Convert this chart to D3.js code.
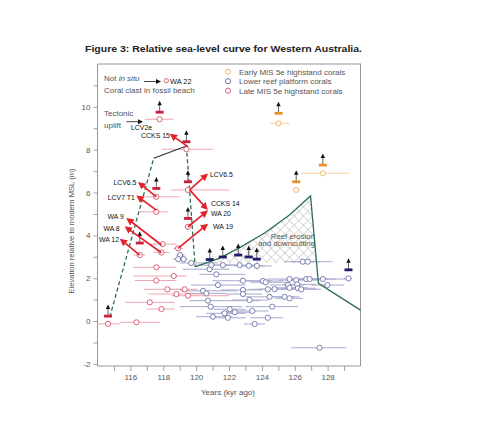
<!DOCTYPE html>
<html><head><meta charset="utf-8">
<script src="https://cdn.jsdelivr.net/npm/d3@7/dist/d3.min.js"></script>
<style>body{margin:0;background:#fff}</style>
</head><body>
<svg id="c" width="500" height="446"></svg>
<script>
// ---------- DATA ----------
const xTickValues = [115,116,117,118,119,120,121,122,123,124,125,126,127,128,129];
const xTickLabels = [116,118,120,122,124,126,128];
const yTickValues = [-2,-1,0,1,2,3,4,5,6,7,8,9,10,11];
const yTickLabels = [-2,0,2,4,6,8,10];

// [age kyr, elevation m, age min, age max]
const lateCorals = [
  [114.64,-0.13,114.0,115.35],[116.37,-0.06,115.35,117.78],
  [117.58,2.51,116.16,118.8],[118.64,2.10,116.14,119.41],
  [117.58,1.89,116.27,118.8],[118.25,1.48,116.8,119.6],
  [119.30,1.48,118.3,120.1],[118.80,1.26,117.1,120.5],
  [119.50,1.18,118.5,122.0],[117.18,0.87,115.7,118.7],
  [117.89,0.56,117.0,118.7],[116.57,3.08,116.2,116.9],
  [117.89,3.20,117.4,118.4],[117.97,3.59,117.2,118.8],
  [118.90,3.39,118.6,119.2],[119.50,4.40,119.3,119.7],
  [119.50,6.12,118.5,122.0],[117.58,5.80,116.6,119.0],
  [117.58,5.10,116.57,118.27],[119.41,8.02,117.89,121.0],
  [117.78,9.42,116.87,118.64]
];
const lowerCorals = [
  [119.03,3.08,118.8,119.3],[118.91,2.89,118.6,119.2],[119.24,2.89,119.0,119.5],
  [119.70,2.71,119.0,121.3],[120.82,2.42,119.18,122.04],[121.23,2.18,120.2,123.0],
  [121.33,1.68,119.7,123.0],[120.42,1.41,119.0,122.5],[120.62,1.29,119.4,121.8],
  [120.72,0.95,119.6,123.9],[120.88,0.67,119.0,122.8],[121.02,0.20,120.0,122.2],
  [121.73,0.36,120.6,123.0],[120.93,2.61,120.0,122.0],[121.63,2.61,120.7,122.6],
  [122.65,2.61,121.6,123.8],[123.21,2.58,122.3,124.2],[123.70,2.57,122.8,124.6],
  [126.49,2.77,125.4,127.6],[126.79,2.77,125.8,128.3],[122.85,1.88,121.0,124.6],
  [124.06,1.87,122.6,125.3],[124.23,1.81,123.3,125.6],[125.68,1.96,124.3,127.2],
  [126.09,1.91,125.0,127.5],[126.70,1.96,125.5,128.0],[126.90,1.96,125.9,128.5],
  [127.71,1.96,126.5,129.27],[127.99,1.68,127.0,129.0],[125.58,1.68,124.5,126.6],
  [126.15,1.71,125.3,127.3],[122.85,1.45,121.5,124.0],[124.36,1.48,123.2,125.5],
  [124.77,1.49,123.8,125.9],[125.68,1.55,124.6,126.8],[126.19,1.53,125.2,127.3],
  [126.39,1.48,125.5,127.6],[122.85,1.26,121.8,124.0],[124.47,1.13,123.0,126.0],
  [125.38,1.13,124.4,126.3],[125.68,1.06,124.8,126.5],[123.25,0.98,122.2,124.4],
  [122.04,0.55,121.0,123.0],[122.35,0.41,121.5,123.4],[123.42,0.47,122.4,124.4],
  [124.63,0.67,123.0,126.2],[121.93,0.15,121.0,123.0],[124.36,0.15,123.3,125.3],
  [123.56,-0.14,122.9,124.2],[127.51,-1.25,125.79,129.13],[129.27,1.99,129.0,129.5]
];
const earlyCorals = [
  [125.01,9.23,124.47,125.68],[126.09,6.12,125.9,126.3],[127.71,6.9,126.39,129.33]
];
const notInSitu = [[118.19,11.22]];

// minimum-elevation markers [age, elevation]
const lateMinima  = [[114.64,0.23],[116.57,3.64],[117.58,6.19],[117.78,9.75],[119.41,8.37],[119.5,6.5],[119.5,4.79]];
const earlyMinima = [[125.01,9.7],[126.09,6.5],[127.71,7.28]];
const lowerMinima = [[120.83,2.87],[121.62,2.99],[122.56,3.08],[123.2,2.99],[123.69,2.89],[129.27,2.39]];

// sea-level curve segments [age, elevation]
const dashedA = [[114.75,0.19],[117.42,7.6]];
const solidA  = [[117.42,7.6],[119.41,8.17]];
const dashedB = [[119.41,8.17],[119.94,2.53]];
const solidB  = [[119.94,2.53],[121.43,2.94],[122.65,3.43],[124.17,4.11],[125.68,4.95],[126.96,5.84],[127.44,1.76],[130,0.51]];
const erosionArea = [[120.6,2.72],[121.43,2.94],[122.65,3.43],[124.17,4.11],[125.68,4.95],[126.96,5.84],[127.33,2.72]];

// annotated arrows: [label, fromAge, fromElev, toAge, toElev]
const labelArrows = [
  ['CCKS 15',119.5,8.14,118.5,8.68],
  ['LCV6.5',117.58,5.80,116.57,6.43],
  ['LCV7 T1',117.58,5.18,116.47,5.80],
  ['WA 9',117.89,3.55,115.86,4.75],
  ['WA 8',117.89,3.19,115.76,4.36],
  ['WA 12',116.57,3.08,115.46,3.78],
  ['LCV6.5',119.61,6.12,120.62,6.82],
  ['CCKS 14',119.61,6.12,120.62,5.26],
  ['WA 20',119.5,4.40,120.62,5.10],
  ['WA 19',118.9,3.39,120.62,4.48]
];
// label anchor [age, elev]
const labelAt = [[118.4,8.64],[116.37,6.48],[116.27,5.78],[115.6,4.87],[115.35,4.33],[115.31,3.81],
                 [120.84,6.85],[120.9,5.46],[120.9,5.03],[121.03,4.40]];

const legendItems = ['Early MIS 5e highstand corals','Lower reef platform corals','Late MIS 5e highstand corals'];

// ---------- DRAW ----------
const FONT = "'Liberation Sans', Arial, sans-serif";
const C = {
  red:'#d2506a', redLine:'#eea7b0', blue:'#6e74a8', blueLine:'#a6a9cf',
  orange:'#efb060', orangeLine:'#f3cf9c', navy:'#1c1c6e', redBar:'#c8203a', orangeBar:'#e8902a',
  arrow:'#e3232b', green:'#2f6e50', frame:'#8a8a8a', text:'#555'
};
const svg = d3.select('#c');
const x = d3.scaleLinear().domain([114,130]).range([97.5,360.5]);
const y = d3.scaleLinear().domain([-2.1,12]).range([366,64]);

const defs = svg.append('defs');
const pat = defs.append('pattern').attr('id','hatch').attr('patternUnits','userSpaceOnUse')
  .attr('width',6.5).attr('height',6.5).attr('patternTransform','rotate(45)');
pat.append('path').attr('d','M3.25,0V6.5M0,3.25H6.5').attr('stroke','#b4b4b4').attr('stroke-width',0.5).attr('fill','none');
defs.append('marker').attr('id','ra').attr('viewBox','0 0 10 10').attr('refX',7).attr('refY',5)
  .attr('markerWidth',7.5).attr('markerHeight',7.5).attr('markerUnits','userSpaceOnUse').attr('orient','auto')
  .append('path').attr('d','M0,0L10,5L0,10z').attr('fill',C.arrow);
defs.append('marker').attr('id','ka').attr('viewBox','0 0 10 10').attr('refX',8).attr('refY',5)
  .attr('markerWidth',5).attr('markerHeight',5).attr('markerUnits','userSpaceOnUse').attr('orient','auto')
  .append('path').attr('d','M0,0L10,5L0,10z').attr('fill','#111');

// title
svg.append('text').attr('x',85).attr('y',51.5).attr('font-family',FONT).attr('font-weight','bold')
  .attr('font-size',9.8).attr('fill','#222').attr('textLength',277).attr('lengthAdjust','spacingAndGlyphs')
  .text('Figure 3: Relative sea-level curve for Western Australia.');

// frame
svg.append('line').attr('x1',x.range()[0]).attr('x2',x.range()[1]+0.5).attr('y1',64).attr('y2',64).attr('stroke',C.frame).attr('stroke-width',0.9);
svg.append('line').attr('x1',x.range()[1]).attr('x2',x.range()[1]).attr('y1',64).attr('y2',366).attr('stroke',C.frame).attr('stroke-width',0.9);

// axes
const yAxis = d3.axisLeft(y).tickValues(yTickValues).tickSize(4).tickPadding(3)
  .tickFormat(d => yTickLabels.includes(d) ? String(d) : '');
const gy = svg.append('g').attr('transform',`translate(${x.range()[0]},0)`).call(yAxis);
const xAxis = d3.axisBottom(x).tickValues(xTickValues).tickSize(5).tickPadding(3)
  .tickFormat(d => xTickLabels.includes(d) ? String(d) : '');
const gx = svg.append('g').attr('transform',`translate(0,${y.range()[0]})`).call(xAxis);
[gx,gy].forEach(g=>{
  g.select('.domain').attr('stroke',C.frame).attr('stroke-width',0.9);
  g.selectAll('.tick line').attr('stroke',C.frame).attr('stroke-width',0.8);
  g.selectAll('.tick text').attr('font-family',FONT).attr('font-size',8).attr('fill',C.text);
});
gx.select('.domain').attr('d',`M${x.range()[0]},0H${x.range()[1]}`);
gy.select('.domain').attr('d',`M0,${y.range()[1]}V${y.range()[0]}`);

svg.append('text').attr('x',228).attr('y',395).attr('text-anchor','middle').attr('font-family',FONT)
  .attr('font-size',8).attr('fill',C.text).text('Years (kyr ago)');
svg.append('text').attr('transform','translate(74,231) rotate(-90)').attr('text-anchor','middle')
  .attr('font-family',FONT).attr('font-size',7.6).attr('fill',C.text).text('Elevation relative to modern MSL (m)');

// hatch area
const ln = d3.line().x(d=>x(d[0])).y(d=>y(d[1]));
svg.append('path').datum(erosionArea).attr('d',d => ln(d) + 'Z')
  .attr('fill','url(#hatch)').attr('stroke','none');
svg.append('text').attr('x',315).attr('y',238.5).attr('text-anchor','end').attr('font-family',FONT)
  .attr('font-size',7.8).attr('fill','#555').text('Reef erosion');
svg.append('text').attr('x',315).attr('y',246).attr('text-anchor','end').attr('font-family',FONT)
  .attr('font-size',7.8).attr('fill','#555').text('and downcutting');

// error bars
function errBars(data,color){
  svg.append('g').selectAll('line').data(data).join('line')
    .attr('x1',d=>x(d[2])).attr('x2',d=>x(d[3])).attr('y1',d=>y(d[1])).attr('y2',d=>y(d[1]))
    .attr('stroke',color).attr('stroke-width',1);
}
errBars(lowerCorals,C.blueLine);
errBars(lateCorals,C.redLine);
errBars(earlyCorals,C.orangeLine);

// sea-level curve
[dashedA,dashedB].forEach(s=>svg.append('path').datum(s).attr('d',ln).attr('fill','none')
  .attr('stroke',C.green).attr('stroke-width',1.3).attr('stroke-dasharray','4,2.6'));
svg.append('path').datum(solidA).attr('d',ln).attr('fill','none').attr('stroke','#24382c').attr('stroke-width',1.1);
svg.append('path').datum(solidB).attr('d',ln).attr('fill','none').attr('stroke',C.green).attr('stroke-width',1.3);

// circles
function circles(data,color,r){
  svg.append('g').selectAll('circle').data(data).join('circle')
    .attr('cx',d=>x(d[0])).attr('cy',d=>y(d[1])).attr('r',r)
    .attr('fill','#fff').attr('stroke',color).attr('stroke-width',0.9);
}
circles(lowerCorals,C.blue,2.6);
circles(lateCorals,C.red,2.6);
circles(earlyCorals,C.orange,2.6);
circles(notInSitu,C.red,2.1);

// minima markers
function minima(data,color){
  const g = svg.append('g');
  const s = g.selectAll('g').data(data).join('g').attr('transform',d=>`translate(${x(d[0])},${y(d[1])})`);
  s.append('line').attr('x1',0).attr('x2',0).attr('y1',0).attr('y2',-8).attr('stroke','#222').attr('stroke-width',0.7);
  s.append('path').attr('d','M0,-11.5L2.2,-7L-2.2,-7Z').attr('fill','#111');
  s.append('rect').attr('x',-4).attr('y',-1.4).attr('width',8).attr('height',2.8).attr('fill',color);
}
minima(lateMinima,C.redBar);
minima(earlyMinima,C.orangeBar);
minima(lowerMinima,C.navy);

// red annotation arrows
svg.append('g').selectAll('line').data(labelArrows).join('line')
  .attr('x1',d=>x(d[1])).attr('y1',d=>y(d[2])).attr('x2',d=>x(d[3])).attr('y2',d=>y(d[4]))
  .attr('stroke',C.arrow).attr('stroke-width',1.7).attr('marker-end','url(#ra)');
svg.append('g').selectAll('text').data(labelArrows).join('text')
  .attr('x',(d,i)=>x(labelAt[i][0])).attr('y',(d,i)=>y(labelAt[i][1])).attr('dy','0.35em')
  .attr('text-anchor',d=>d[3]<d[1]?'end':'start')
  .attr('font-family',FONT).attr('font-size',6.9).attr('fill','#111').text(d=>d[0]);

// legend
const lg = svg.append('g').selectAll('g').data(legendItems).join('g')
  .attr('transform',(d,i)=>`translate(228,${71.7+i*9.5})`);
lg.append('circle').attr('r',2.6).attr('fill','#fff').attr('stroke-width',0.9)
  .attr('stroke',(d,i)=>[C.orange,'#5a6090',C.red][i]);
lg.append('text').attr('x',11).attr('dy','0.35em').attr('font-family',FONT).attr('font-size',8)
  .attr('fill',C.text).text(d=>d);

// left-top annotations
const ann = svg.append('g').attr('font-family',FONT).attr('fill',C.text).attr('font-size',8);
const t1 = ann.append('text').attr('x',104).attr('y',81);
t1.append('tspan').text('Not ');
t1.append('tspan').attr('font-style','italic').text('in situ');
ann.append('text').attr('x',104).attr('y',93).text('Coral clast in fossil beach');
ann.append('text').attr('x',104).attr('y',116).text('Tectonic');
ann.append('text').attr('x',104).attr('y',128).text('uplift');
svg.append('text').attr('x',170).attr('y',83.6).attr('font-family',FONT).attr('font-size',7.4).attr('fill','#111').text('WA 22');
svg.append('text').attr('x',131).attr('y',129.5).attr('font-family',FONT).attr('font-size',6.9).attr('fill','#111').text('LCV2e');
svg.append('line').attr('x1',144).attr('x2',160).attr('y1',81.5).attr('y2',81.5).attr('stroke','#111').attr('stroke-width',0.8).attr('marker-end','url(#ka)');
svg.append('line').attr('x1',126.5).attr('x2',142).attr('y1',121.7).attr('y2',121.7).attr('stroke','#111').attr('stroke-width',0.8).attr('marker-end','url(#ka)');
</script>
</body></html>
